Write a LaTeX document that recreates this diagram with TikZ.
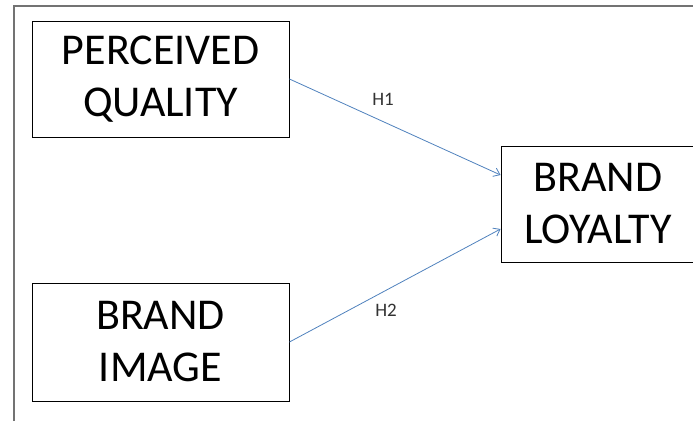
\documentclass[tikz,border=0pt]{standalone}
\usepackage{fontspec}
\setmainfont{Carlito}
\usepackage{tikz}
\usetikzlibrary{arrows.meta}

\begin{document}
\begin{tikzpicture}[x=1pt, y=-1pt,
    construct/.style={draw=black, line width=0.9pt, rectangle, align=center,
        font=\fontsize{44}{52}\selectfont, inner sep=0pt},
    hyparr/.style={draw={rgb,255:red,79;green,129;blue,189}, line width=0.8pt,
        -{Straight Barb[length=6pt,width=9pt]}},
    hyplab/.style={font=\fontsize{19}{21}\selectfont, text=black!80}
]
\useasboundingbox (0,0) rectangle (693,421);
\clip (0,0) rectangle (693,421);
\draw[black!55, line width=1.6pt] (14,421) -- (14,6) -- (693,6);
\node[construct, minimum width=257pt, minimum height=116pt] (pq) at (160.5,79) {PERCEIVED\\QUALITY};
\node[construct, minimum width=257pt, minimum height=118pt] (bi) at (160.5,342) {BRAND\\IMAGE};
\node[construct, minimum width=194pt, minimum height=116pt] (bl) at (598,204) {BRAND\\LOYALTY};
\draw[hyparr] (pq.east) to ([yshift=29pt]bl.west);
\draw[hyparr] (bi.east) to ([yshift=-25pt]bl.west);
\node[hyplab] (h1) at (383,99) {H1};
\node[hyplab] (h2) at (386,310) {H2};
\end{tikzpicture}
\end{document}
